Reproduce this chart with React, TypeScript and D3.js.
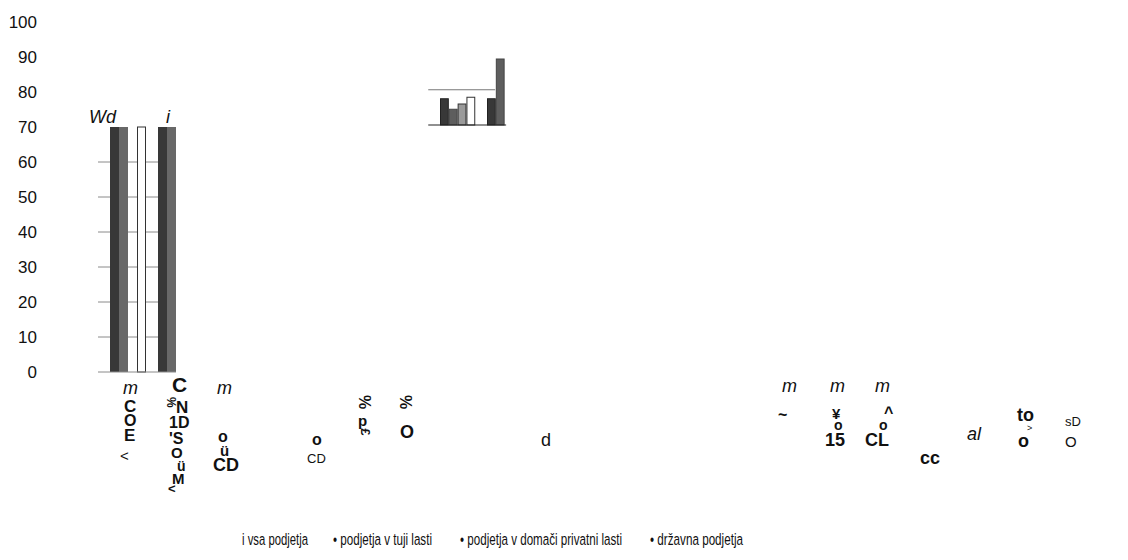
import React, { useLayoutEffect, useRef, useState } from "react";
import * as d3 from "d3";

// ---------- data ----------
const groups = ["g1", "g2"];
const seriesNames = ["vsa podjetja", "podjetja v tuji lasti", "podjetja v domači privatni lasti", "državna podjetja"];
const seriesAll: (number | null)[] = [70, 70];
const seriesForeign: (number | null)[] = [70, 70];
const seriesDomestic: (number | null)[] = [null, null];
const seriesState: (number | null)[] = [70, null];

const yTicks = [0, 10, 20, 30, 40, 50, 60, 70, 80, 90, 100];
const gridTicks = [10, 20, 30, 40, 50, 60];

// inset (small embedded chart)
const insetAll: (number | null)[] = [35, 35];
const insetForeign: (number | null)[] = [21, 88];
const insetDomestic: (number | null)[] = [28, null];
const insetState: (number | null)[] = [37, null];
const insetRef = 47;

const legendLabels = ["i vsa podjetja", "• podjetja v tuji lasti", "• podjetja v domači privatni lasti", "• državna podjetja"];

// garbled axis-label fragments (text as it appears)
type Frag = { t: string; x: number; y: number; s: number; w?: string; i?: boolean; r?: number };
const fragments: Frag[] = [
  { t: "Wd", x: 89, y: 123, s: 18, i: true },
  { t: "i", x: 166, y: 123, s: 18, i: true },
  { t: "m", x: 123, y: 394, s: 18, i: true },
  { t: "C", x: 172, y: 392, s: 21, w: "bold" },
  { t: "m", x: 217, y: 394, s: 18, i: true },
  { t: "C", x: 124, y: 412, s: 17, w: "bold" },
  { t: "O", x: 124, y: 426, s: 16, w: "bold" },
  { t: "E", x: 124, y: 441, s: 17, w: "bold" },
  { t: "<", x: 120, y: 461, s: 15 },
  { t: "N", x: 176, y: 413, s: 17, w: "bold" },
  { t: "%", x: 166, y: 406, s: 12, w: "bold", r: 90 },
  { t: "1D", x: 169, y: 428, s: 16, w: "bold" },
  { t: "'S", x: 169, y: 444, s: 16, w: "bold" },
  { t: "O", x: 171, y: 458, s: 15, w: "bold" },
  { t: "ü", x: 177, y: 471, s: 14, w: "bold" },
  { t: "M", x: 172, y: 484, s: 15, w: "bold" },
  { t: "<", x: 168, y: 493, s: 13, w: "bold" },
  { t: "o", x: 218, y: 442, s: 16, w: "bold" },
  { t: "ü", x: 220, y: 456, s: 15, w: "bold" },
  { t: "CD", x: 213, y: 471, s: 18, w: "bold" },
  { t: "o", x: 312, y: 445, s: 16, w: "bold" },
  { t: "CD", x: 307, y: 463, s: 13 },
  { t: "%", x: 358, y: 407, s: 16, w: "bold", r: 90 },
  { t: "p", x: 358, y: 426, s: 15, w: "bold" },
  { t: "£", x: 360, y: 438, s: 13, w: "bold", r: 90 },
  { t: "%", x: 399, y: 407, s: 16, w: "bold", r: 90 },
  { t: "O", x: 400, y: 438, s: 18, w: "bold" },
  { t: "d", x: 541, y: 446, s: 18 },
  { t: "m", x: 782, y: 392, s: 18, i: true },
  { t: "m", x: 830, y: 392, s: 18, i: true },
  { t: "m", x: 875, y: 392, s: 18, i: true },
  { t: "~", x: 778, y: 420, s: 16, w: "bold" },
  { t: "¥", x: 832, y: 419, s: 15, w: "bold" },
  { t: "o", x: 834, y: 430, s: 14, w: "bold" },
  { t: "15", x: 825, y: 446, s: 18, w: "bold" },
  { t: "^", x: 884, y: 418, s: 16, w: "bold" },
  { t: "o", x: 879, y: 430, s: 14, w: "bold" },
  { t: "CL", x: 865, y: 446, s: 18, w: "bold" },
  { t: "cc", x: 920, y: 464, s: 18, w: "bold" },
  { t: "al", x: 967, y: 440, s: 18, i: true },
  { t: "to", x: 1017, y: 421, s: 18, w: "bold" },
  { t: ">", x: 1027, y: 431, s: 9 },
  { t: "o", x: 1018, y: 447, s: 18, w: "bold" },
  { t: "sD", x: 1065, y: 426, s: 13 },
  { t: "O", x: 1065, y: 447, s: 15 },
];

const colors = ["#383838", "#686868", "#a6a6a6", "#ffffff"];
const strokes = ["none", "none", "none", "#333"];
const insetStrokes = ["#222", "#444", "#333", "#333"];

function LegendItem({ label, x, y, width }: { label: string; x: number; y: number; width: number }) {
  const ref = useRef<SVGTextElement>(null);
  const [sx, setSx] = useState(0.67);
  useLayoutEffect(() => {
    if (ref.current) {
      const w = ref.current.getComputedTextLength();
      if (w > 0) setSx(width / w);
    }
  }, [label, width]);
  return (
    <g transform={`translate(${x},${y}) scale(${sx},1)`}>
      <text ref={ref} x={0} y={0} fontSize={17} fill="#111">{label}</text>
    </g>
  );
}

export default function App() {
  const W = 1128, H = 560;
  const series = [seriesAll, seriesForeign, seriesDomestic, seriesState];
  const inset = [insetAll, insetForeign, insetDomestic, insetState];

  const y = d3.scaleLinear().domain([0, 100]).range([372, 22]);
  const x0 = d3.scaleBand().domain(groups).range([98, 206]).paddingInner(0.25).paddingOuter(0.25);
  const x1 = d3.scaleBand().domain(seriesNames).range([0, x0.bandwidth()]);
  const gridStart = 98;
  const gridEnd = (x0(groups[1]) as number) + (x1(seriesNames[1]) as number) + x1.bandwidth();

  const yi = d3.scaleLinear().domain([0, 100]).range([125, 50]);
  const xi0 = d3.scaleBand().domain(groups).range([428.25, 534]).paddingInner(0.25).paddingOuter(0.25);
  const xi1 = d3.scaleBand().domain(seriesNames).range([0, xi0.bandwidth()]);
  const insetEnd = (xi0(groups[1]) as number) + (xi1(seriesNames[1]) as number) + xi1.bandwidth() + 1.5;

  const font = "'Liberation Sans', Arial, sans-serif";
  const legendX = [242, 333, 460, 650];
  const legendW = [66, 99, 162, 93];

  return (
    <svg width={W} height={H} style={{ position: "absolute", left: 0, top: 0, background: "#fff" }} fontFamily={font}>
      {/* y tick labels */}
      {yTicks.map((t) => (
        <text key={t} x={37} y={y(t) + 6} fontSize={17} textAnchor="end" fill="#111">{t}</text>
      ))}
      {/* gridlines */}
      {gridTicks.map((t) => (
        <line key={t} x1={gridStart} x2={gridEnd} y1={y(t)} y2={y(t)} stroke="#8a8a8a" strokeWidth={1} />
      ))}
      {/* bars */}
      {groups.map((g, gi) => (
        <g key={g} transform={`translate(${x0(g)},0)`}>
          {series.map((s, si) => {
            const v = s[gi];
            if (v == null) return null;
            return (
              <rect key={si} x={(x1(seriesNames[si]) as number) + (strokes[si] !== "none" ? 0.5 : 0)} y={y(v)}
                width={x1.bandwidth() - (strokes[si] !== "none" ? 1 : 0)} height={y(0) - y(v)}
                fill={colors[si]} stroke={strokes[si]} strokeWidth={1} />
            );
          })}
        </g>
      ))}
      <line x1={gridStart} x2={gridEnd} y1={y(0)} y2={y(0)} stroke="#8a8a8a" />

      {/* inset chart */}
      <line x1={xi0.range()[0]} x2={insetEnd - 11} y1={yi(insetRef)} y2={yi(insetRef)} stroke="#777" />
      {groups.map((g, gi) => (
        <g key={g} transform={`translate(${xi0(g)},0)`}>
          {inset.map((s, si) => {
            const v = s[gi];
            if (v == null) return null;
            return (
              <rect key={si} x={(xi1(seriesNames[si]) as number) + 0.5} y={yi(v)}
                width={xi1.bandwidth() - 1} height={yi(0) - yi(v)}
                fill={si === 2 ? "#9a9a9a" : si === 1 ? "#5e5e5e" : colors[si]} stroke={insetStrokes[si]} strokeWidth={1} />
            );
          })}
        </g>
      ))}
      <line x1={xi0.range()[0]} x2={insetEnd} y1={yi(0)} y2={yi(0)} stroke="#222" strokeWidth={1.2} />

      {/* fragments */}
      {fragments.map((f, k) => (
        <text key={k} x={f.x} y={f.y} fontSize={f.s} fontWeight={f.w || "normal"}
          fontStyle={f.i ? "italic" : "normal"} fill="#111"
          transform={f.r ? `rotate(${f.r},${f.x + f.s * 0.4},${f.y - f.s * 0.35})` : undefined}>{f.t}</text>
      ))}

      {/* legend */}
      {legendLabels.map((l, k) => (
        <LegendItem key={k} label={l} x={legendX[k]} y={545} width={legendW[k]} />
      ))}
    </svg>
  );
}
